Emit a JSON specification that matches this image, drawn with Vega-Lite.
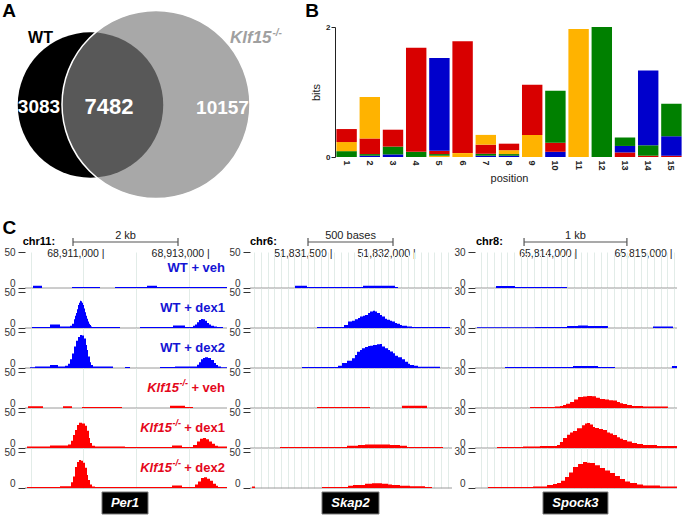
{
"$schema": "https://vega.github.io/schema/vega-lite/v6.json",
"background": "white",
"padding": {"left": 2, "top": 1, "right": 0, "bottom": 0},
"config": {
  "view": {"stroke": null},
  "font": "Liberation Sans",
  "axis": {"labelFont": "Liberation Sans", "titleFont": "Liberation Sans"},
  "axisX": {"grid": true, "labels": false, "ticks": false, "domain": false, "gridColor": "#e2ece8", "gridWidth": 1},
  "axisY": {"grid": false, "domain": false, "tickSize": 7, "tickColor": "#333333", "labelColor": "#333333", "labelFontSize": 10, "labelPadding": 3},
  "text": {"font": "Liberation Sans"}
},
"datasets": {
  "venn": [
    {"region": "WT only", "n": 3083, "wt": true, "klf": false},
    {"region": "both", "n": 7482, "wt": true, "klf": true},
    {"region": "Klf15 only", "n": 10157, "wt": false, "klf": true}
  ],
  "logo": [
    {"pos":1,"nt":"T","bits":0.09},{"pos":1,"nt":"G","bits":0.14},{"pos":1,"nt":"A","bits":0.2},
    {"pos":2,"nt":"C","bits":0.02},{"pos":2,"nt":"T","bits":0.025},{"pos":2,"nt":"A","bits":0.24},{"pos":2,"nt":"G","bits":0.64},
    {"pos":3,"nt":"C","bits":0.04},{"pos":3,"nt":"T","bits":0.12},{"pos":3,"nt":"A","bits":0.26},
    {"pos":4,"nt":"T","bits":0.08},{"pos":4,"nt":"A","bits":1.6},
    {"pos":5,"nt":"G","bits":0.02},{"pos":5,"nt":"T","bits":0.025},{"pos":5,"nt":"A","bits":0.05},{"pos":5,"nt":"C","bits":1.43},
    {"pos":6,"nt":"G","bits":0.06},{"pos":6,"nt":"A","bits":1.72},
    {"pos":7,"nt":"C","bits":0.02},{"pos":7,"nt":"T","bits":0.03},{"pos":7,"nt":"A","bits":0.14},{"pos":7,"nt":"G","bits":0.15},
    {"pos":8,"nt":"C","bits":0.02},{"pos":8,"nt":"T","bits":0.025},{"pos":8,"nt":"G","bits":0.06},{"pos":8,"nt":"A","bits":0.1},
    {"pos":9,"nt":"G","bits":0.34},{"pos":9,"nt":"A","bits":0.77},
    {"pos":10,"nt":"C","bits":0.08},{"pos":10,"nt":"A","bits":0.14},{"pos":10,"nt":"T","bits":0.8},
    {"pos":11,"nt":"G","bits":1.97},
    {"pos":12,"nt":"T","bits":2.0},
    {"pos":13,"nt":"A","bits":0.07},{"pos":13,"nt":"C","bits":0.1},{"pos":13,"nt":"T","bits":0.13},
    {"pos":14,"nt":"A","bits":0.02},{"pos":14,"nt":"T","bits":0.16},{"pos":14,"nt":"C","bits":1.15},
    {"pos":15,"nt":"A","bits":0.02},{"pos":15,"nt":"C","bits":0.3},{"pos":15,"nt":"T","bits":0.5}
  ],
  "per1": [
    {"t":1,"x":68909515,"v":0},{"t":1,"x":68909667,"v":3},{"t":1,"x":68909838,"v":0},{"t":1,"x":68910408,"v":1.5},{"t":1,"x":68910940,"v":0},{"t":1,"x":68911225,"v":1.5},{"t":1,"x":68911833,"v":3},{"t":1,"x":68912023,"v":1.5},{"t":1,"x":68913353,"v":0},
    {"t":2,"x":68909515,"v":0},{"t":2,"x":68909648,"v":1.5},{"t":2,"x":68909990,"v":5},{"t":2,"x":68910180,"v":2},{"t":2,"x":68910370,"v":3},{"t":2,"x":68910408,"v":6},{"t":2,"x":68910446,"v":12},{"t":2,"x":68910465,"v":17},{"t":2,"x":68910484,"v":21},{"t":2,"x":68910503,"v":26},{"t":2,"x":68910522,"v":32},{"t":2,"x":68910541,"v":35},{"t":2,"x":68910560,"v":38},{"t":2,"x":68910579,"v":37},{"t":2,"x":68910598,"v":35},{"t":2,"x":68910617,"v":32},{"t":2,"x":68910636,"v":27},{"t":2,"x":68910655,"v":22},{"t":2,"x":68910674,"v":17},{"t":2,"x":68910693,"v":13},{"t":2,"x":68910712,"v":9},{"t":2,"x":68910731,"v":6},{"t":2,"x":68910750,"v":4},{"t":2,"x":68910769,"v":2},{"t":2,"x":68910788,"v":1.5},{"t":2,"x":68911320,"v":0},{"t":2,"x":68911700,"v":1.5},{"t":2,"x":68912327,"v":3.5},{"t":2,"x":68912555,"v":1.5},{"t":2,"x":68912707,"v":3},{"t":2,"x":68912745,"v":5},{"t":2,"x":68912783,"v":8},{"t":2,"x":68912821,"v":11},{"t":2,"x":68912859,"v":12.5},{"t":2,"x":68912897,"v":12},{"t":2,"x":68912935,"v":10},{"t":2,"x":68912973,"v":7},{"t":2,"x":68913011,"v":5},{"t":2,"x":68913049,"v":3},{"t":2,"x":68913106,"v":2},{"t":2,"x":68913163,"v":1.5},{"t":2,"x":68913277,"v":0},
    {"t":3,"x":68909515,"v":0},{"t":3,"x":68909610,"v":1},{"t":3,"x":68909705,"v":2},{"t":3,"x":68909990,"v":4},{"t":3,"x":68910142,"v":2},{"t":3,"x":68910275,"v":3},{"t":3,"x":68910332,"v":6},{"t":3,"x":68910370,"v":12},{"t":3,"x":68910408,"v":20},{"t":3,"x":68910446,"v":30},{"t":3,"x":68910484,"v":38},{"t":3,"x":68910522,"v":43},{"t":3,"x":68910560,"v":46},{"t":3,"x":68910598,"v":45},{"t":3,"x":68910636,"v":41},{"t":3,"x":68910674,"v":32},{"t":3,"x":68910693,"v":25},{"t":3,"x":68910712,"v":16},{"t":3,"x":68910750,"v":8},{"t":3,"x":68910769,"v":4},{"t":3,"x":68910807,"v":2},{"t":3,"x":68911187,"v":0},{"t":3,"x":68911415,"v":1.5},{"t":3,"x":68911510,"v":0},{"t":3,"x":68912080,"v":1.5},{"t":3,"x":68912365,"v":2},{"t":3,"x":68912783,"v":4.5},{"t":3,"x":68912821,"v":8},{"t":3,"x":68912859,"v":12},{"t":3,"x":68912897,"v":14},{"t":3,"x":68912935,"v":15},{"t":3,"x":68912992,"v":14},{"t":3,"x":68913049,"v":11},{"t":3,"x":68913106,"v":7},{"t":3,"x":68913144,"v":4},{"t":3,"x":68913182,"v":2},{"t":3,"x":68913239,"v":1},{"t":3,"x":68913353,"v":0},
    {"t":4,"x":68909515,"v":0},{"t":4,"x":68909572,"v":2.5},{"t":4,"x":68909857,"v":0},{"t":4,"x":68910237,"v":2.5},{"t":4,"x":68910408,"v":0},{"t":4,"x":68910598,"v":1.5},{"t":4,"x":68911358,"v":0},{"t":4,"x":68912270,"v":3},{"t":4,"x":68912555,"v":1.5},{"t":4,"x":68912707,"v":0},
    {"t":5,"x":68909515,"v":0},{"t":5,"x":68909553,"v":2},{"t":5,"x":68909990,"v":3.5},{"t":5,"x":68910332,"v":5},{"t":5,"x":68910389,"v":10},{"t":5,"x":68910427,"v":18},{"t":5,"x":68910465,"v":25},{"t":5,"x":68910503,"v":32},{"t":5,"x":68910541,"v":35},{"t":5,"x":68910598,"v":34},{"t":5,"x":68910655,"v":31},{"t":5,"x":68910693,"v":24},{"t":5,"x":68910731,"v":14},{"t":5,"x":68910750,"v":7},{"t":5,"x":68910788,"v":3},{"t":5,"x":68910845,"v":2},{"t":5,"x":68911415,"v":1.5},{"t":5,"x":68912308,"v":3.5},{"t":5,"x":68912498,"v":1.5},{"t":5,"x":68912707,"v":4},{"t":5,"x":68912783,"v":9},{"t":5,"x":68912840,"v":13},{"t":5,"x":68912897,"v":14},{"t":5,"x":68912954,"v":12},{"t":5,"x":68913011,"v":9},{"t":5,"x":68913068,"v":6},{"t":5,"x":68913125,"v":3},{"t":5,"x":68913182,"v":2},{"t":5,"x":68913353,"v":0},
    {"t":6,"x":68909515,"v":0},{"t":6,"x":68909553,"v":1.5},{"t":6,"x":68910180,"v":2.5},{"t":6,"x":68910389,"v":8},{"t":6,"x":68910427,"v":16},{"t":6,"x":68910465,"v":29},{"t":6,"x":68910503,"v":36},{"t":6,"x":68910541,"v":39},{"t":6,"x":68910579,"v":38},{"t":6,"x":68910617,"v":35},{"t":6,"x":68910655,"v":28},{"t":6,"x":68910693,"v":18},{"t":6,"x":68910712,"v":11},{"t":6,"x":68910750,"v":5},{"t":6,"x":68910788,"v":2},{"t":6,"x":68910845,"v":1.5},{"t":6,"x":68912308,"v":3.5},{"t":6,"x":68912498,"v":1.5},{"t":6,"x":68912745,"v":5},{"t":6,"x":68912802,"v":9},{"t":6,"x":68912859,"v":14},{"t":6,"x":68912916,"v":15},{"t":6,"x":68912973,"v":13},{"t":6,"x":68913030,"v":10},{"t":6,"x":68913087,"v":6},{"t":6,"x":68913144,"v":3},{"t":6,"x":68913182,"v":1.5},{"t":6,"x":68913353,"v":0}
  ],
  "skap2": [
    {"t":1,"x":51831014,"v":0},{"t":1,"x":51831284,"v":3},{"t":1,"x":51831356,"v":1.5},{"t":1,"x":51831692,"v":3},{"t":1,"x":51831884,"v":1.5},{"t":1,"x":51831902,"v":0},
    {"t":2,"x":51831014,"v":0},{"t":2,"x":51831416,"v":1.5},{"t":2,"x":51831578,"v":4},{"t":2,"x":51831602,"v":9},{"t":2,"x":51831626,"v":10},{"t":2,"x":51831644,"v":12},{"t":2,"x":51831662,"v":14},{"t":2,"x":51831674,"v":16},{"t":2,"x":51831692,"v":17},{"t":2,"x":51831704,"v":18},{"t":2,"x":51831722,"v":21},{"t":2,"x":51831734,"v":23},{"t":2,"x":51831752,"v":24},{"t":2,"x":51831764,"v":23},{"t":2,"x":51831776,"v":21},{"t":2,"x":51831794,"v":18},{"t":2,"x":51831806,"v":16},{"t":2,"x":51831824,"v":13},{"t":2,"x":51831836,"v":11.5},{"t":2,"x":51831854,"v":10},{"t":2,"x":51831866,"v":9},{"t":2,"x":51831884,"v":7},{"t":2,"x":51831896,"v":6},{"t":2,"x":51831914,"v":4},{"t":2,"x":51831926,"v":3},{"t":2,"x":51831956,"v":2},{"t":2,"x":51831986,"v":1.5},{"t":2,"x":51832214,"v":0},
    {"t":3,"x":51831014,"v":0},{"t":3,"x":51831326,"v":1.5},{"t":3,"x":51831542,"v":3},{"t":3,"x":51831566,"v":7},{"t":3,"x":51831596,"v":10},{"t":3,"x":51831626,"v":13.5},{"t":3,"x":51831644,"v":18},{"t":3,"x":51831656,"v":22.6},{"t":3,"x":51831674,"v":25},{"t":3,"x":51831686,"v":27.4},{"t":3,"x":51831704,"v":29},{"t":3,"x":51831722,"v":30.6},{"t":3,"x":51831734,"v":31},{"t":3,"x":51831752,"v":32},{"t":3,"x":51831776,"v":33},{"t":3,"x":51831794,"v":33.4},{"t":3,"x":51831806,"v":30},{"t":3,"x":51831824,"v":27.4},{"t":3,"x":51831842,"v":25},{"t":3,"x":51831854,"v":23},{"t":3,"x":51831872,"v":20.4},{"t":3,"x":51831884,"v":17},{"t":3,"x":51831902,"v":14.9},{"t":3,"x":51831926,"v":12},{"t":3,"x":51831944,"v":8.8},{"t":3,"x":51831962,"v":6},{"t":3,"x":51831974,"v":4.2},{"t":3,"x":51831998,"v":3},{"t":3,"x":51832022,"v":1.8},{"t":3,"x":51832154,"v":0},
    {"t":4,"x":51831014,"v":0},{"t":4,"x":51831416,"v":1.5},{"t":4,"x":51831734,"v":0},{"t":4,"x":51831926,"v":3},{"t":4,"x":51832076,"v":0},
    {"t":5,"x":51831014,"v":0},{"t":5,"x":51831194,"v":1.5},{"t":5,"x":51831596,"v":3},{"t":5,"x":51831662,"v":4},{"t":5,"x":51831704,"v":5},{"t":5,"x":51831854,"v":4},{"t":5,"x":51831914,"v":3},{"t":5,"x":51831956,"v":1.5},{"t":5,"x":51832172,"v":0},
    {"t":6,"x":51831014,"v":0},{"t":6,"x":51831026,"v":2},{"t":6,"x":51831044,"v":0},{"t":6,"x":51831446,"v":1.5},{"t":6,"x":51831602,"v":3},{"t":6,"x":51831632,"v":4},{"t":6,"x":51831704,"v":6},{"t":6,"x":51831746,"v":6.5},{"t":6,"x":51831806,"v":6},{"t":6,"x":51831842,"v":5},{"t":6,"x":51831866,"v":4},{"t":6,"x":51831914,"v":3},{"t":6,"x":51831974,"v":2.5},{"t":6,"x":51832064,"v":1.5},{"t":6,"x":51832106,"v":0}
  ],
  "spock3": [
    {"t":1,"x":65812940,"v":0},{"t":1,"x":65813160,"v":1.7},{"t":1,"x":65813360,"v":0.9},{"t":1,"x":65813906,"v":0},
    {"t":2,"x":65812940,"v":0},{"t":2,"x":65812961,"v":0.6},{"t":2,"x":65813570,"v":0.9},{"t":2,"x":65813906,"v":1.7},{"t":2,"x":65814022,"v":2.1},{"t":2,"x":65814126,"v":1.7},{"t":2,"x":65814336,"v":0},{"t":2,"x":65814809,"v":1.3},{"t":2,"x":65815019,"v":0},
    {"t":3,"x":65812940,"v":0},{"t":3,"x":65813255,"v":0.8},{"t":3,"x":65813969,"v":1.7},{"t":3,"x":65814232,"v":0.9},{"t":3,"x":65814410,"v":0},{"t":3,"x":65815008,"v":1.7},{"t":3,"x":65815061,"v":0},
    {"t":4,"x":65812940,"v":0},{"t":4,"x":65813518,"v":0.9},{"t":4,"x":65813780,"v":1.3},{"t":4,"x":65813832,"v":1.7},{"t":4,"x":65813864,"v":2.5},{"t":4,"x":65813896,"v":3.5},{"t":4,"x":65813938,"v":5},{"t":4,"x":65813980,"v":7},{"t":4,"x":65814022,"v":9.2},{"t":4,"x":65814074,"v":9.6},{"t":4,"x":65814116,"v":10},{"t":4,"x":65814168,"v":9.8},{"t":4,"x":65814210,"v":8.5},{"t":4,"x":65814252,"v":7.5},{"t":4,"x":65814305,"v":7},{"t":4,"x":65814347,"v":6.5},{"t":4,"x":65814389,"v":6.2},{"t":4,"x":65814431,"v":5},{"t":4,"x":65814462,"v":4},{"t":4,"x":65814494,"v":3.3},{"t":4,"x":65814536,"v":2.5},{"t":4,"x":65814588,"v":1.7},{"t":4,"x":65814704,"v":1.2},{"t":4,"x":65814966,"v":0},
    {"t":5,"x":65812940,"v":0},{"t":5,"x":65813171,"v":0.9},{"t":5,"x":65813444,"v":1.2},{"t":5,"x":65813622,"v":1.7},{"t":5,"x":65813801,"v":2.5},{"t":5,"x":65813832,"v":5},{"t":5,"x":65813864,"v":8.3},{"t":5,"x":65813906,"v":11},{"t":5,"x":65813938,"v":13},{"t":5,"x":65813969,"v":14.2},{"t":5,"x":65814011,"v":16.5},{"t":5,"x":65814064,"v":19},{"t":5,"x":65814095,"v":20.5},{"t":5,"x":65814116,"v":20.8},{"t":5,"x":65814148,"v":19.5},{"t":5,"x":65814179,"v":17.5},{"t":5,"x":65814200,"v":16.7},{"t":5,"x":65814242,"v":15.8},{"t":5,"x":65814284,"v":15},{"t":5,"x":65814326,"v":13},{"t":5,"x":65814358,"v":12},{"t":5,"x":65814389,"v":10.8},{"t":5,"x":65814431,"v":9},{"t":5,"x":65814462,"v":7.8},{"t":5,"x":65814494,"v":6.7},{"t":5,"x":65814536,"v":5.5},{"t":5,"x":65814588,"v":4.2},{"t":5,"x":65814641,"v":3.3},{"t":5,"x":65814704,"v":2.5},{"t":5,"x":65814851,"v":1.7},{"t":5,"x":65815061,"v":0},
    {"t":6,"x":65812940,"v":0},{"t":6,"x":65813076,"v":0.8},{"t":6,"x":65813549,"v":1.2},{"t":6,"x":65813696,"v":2.5},{"t":6,"x":65813759,"v":3.3},{"t":6,"x":65813801,"v":4.2},{"t":6,"x":65813843,"v":6},{"t":6,"x":65813885,"v":9.2},{"t":6,"x":65813927,"v":13},{"t":6,"x":65813969,"v":17.5},{"t":6,"x":65814022,"v":20},{"t":6,"x":65814074,"v":21.7},{"t":6,"x":65814116,"v":21},{"t":6,"x":65814148,"v":20.8},{"t":6,"x":65814200,"v":19},{"t":6,"x":65814252,"v":16.7},{"t":6,"x":65814305,"v":14.5},{"t":6,"x":65814358,"v":12.5},{"t":6,"x":65814410,"v":10},{"t":6,"x":65814462,"v":7.5},{"t":6,"x":65814515,"v":5.5},{"t":6,"x":65814568,"v":4.2},{"t":6,"x":65814641,"v":3},{"t":6,"x":65814704,"v":2.1},{"t":6,"x":65814882,"v":1.2},{"t":6,"x":65815061,"v":0}
  ]
},
"spacing": 16,
"resolve": {"scale": {"x": "independent", "y": "independent", "color": "independent", "size": "independent"}},
"vconcat": [
{
"hconcat": [
  {
    "width": 287, "height": 130,
    "layer": [
      {"data": {"name": "venn"},
       "transform": [{"filter": "datum.wt"}, {"aggregate": [{"op": "sum", "field": "n", "as": "total"}]}],
       "mark": {"type": "point", "shape": "circle", "filled": true, "color": "#000000", "opacity": 1, "strokeWidth": 0},
       "encoding": {
         "x": {"datum": 65.5, "type": "quantitative", "scale": {"domain": [0, 287], "nice": false, "zero": false}, "axis": null},
         "y": {"datum": 78, "type": "quantitative", "scale": {"domain": [0, 130], "nice": false, "zero": false, "reverse": true}, "axis": null},
         "size": {"field": "total", "type": "quantitative", "scale": {"domain": [0, 17639], "range": [0, 35344]}, "legend": null}
       }},
      {"data": {"name": "venn"},
       "transform": [{"filter": "datum.klf"}, {"aggregate": [{"op": "sum", "field": "n", "as": "total"}]}],
       "mark": {"type": "point", "shape": "circle", "filled": true, "color": "#808080", "opacity": 1, "fillOpacity": 0.686, "stroke": "#ffffff", "strokeWidth": 1.5, "strokeOpacity": 1},
       "encoding": {
         "x": {"datum": 131, "type": "quantitative"},
         "y": {"datum": 77.5, "type": "quantitative"},
         "size": {"field": "total", "type": "quantitative", "legend": null}
       }},
      {"data": {"values": [{}]},
       "mark": {"type": "text", "text": "A", "fontSize": 19, "fontWeight": "bold", "align": "center", "baseline": "middle", "color": "#000000"},
       "encoding": {"x": {"datum": -16, "type": "quantitative"}, "y": {"datum": -16, "type": "quantitative"}}},
      {"data": {"values": [{}]},
       "mark": {"type": "text", "text": "B", "fontSize": 19, "fontWeight": "bold", "align": "center", "baseline": "middle", "color": "#000000"},
       "encoding": {"x": {"datum": 287, "type": "quantitative"}, "y": {"datum": -16.5, "type": "quantitative"}}},
      {"data": {"values": [{}]},
       "mark": {"type": "text", "text": "WT", "fontSize": 16, "fontWeight": "bold", "align": "center", "baseline": "middle", "color": "#000000"},
       "encoding": {"x": {"datum": 15.5, "type": "quantitative"}, "y": {"datum": 11, "type": "quantitative"}}},
      {"data": {"values": [{}]},
       "mark": {"type": "text", "text": "Klf15", "fontSize": 17, "fontWeight": "bold", "fontStyle": "italic", "align": "left", "baseline": "middle", "color": "#a0a0a0"},
       "encoding": {"x": {"datum": 205, "type": "quantitative"}, "y": {"datum": 11, "type": "quantitative"}}},
      {"data": {"values": [{}]},
       "mark": {"type": "text", "text": "-/-", "fontSize": 10, "fontWeight": "bold", "fontStyle": "italic", "align": "left", "baseline": "middle", "color": "#a0a0a0", "dy": -5},
       "encoding": {"x": {"datum": 247.5, "type": "quantitative"}, "y": {"datum": 11, "type": "quantitative"}}},
      {"data": {"name": "venn"}, "transform": [{"filter": "datum.region == 'WT only'"}],
       "mark": {"type": "text", "fontSize": 19, "fontWeight": "bold", "align": "center", "baseline": "middle", "color": "#ffffff"},
       "encoding": {"text": {"field": "n", "type": "quantitative", "format": "d"}, "x": {"datum": 14, "type": "quantitative"}, "y": {"datum": 80, "type": "quantitative"}}},
      {"data": {"name": "venn"}, "transform": [{"filter": "datum.region == 'both'"}],
       "mark": {"type": "text", "fontSize": 22, "fontWeight": "bold", "align": "center", "baseline": "middle", "color": "#ffffff"},
       "encoding": {"text": {"field": "n", "type": "quantitative", "format": "d"}, "x": {"datum": 84, "type": "quantitative"}, "y": {"datum": 80, "type": "quantitative"}}},
      {"data": {"name": "venn"}, "transform": [{"filter": "datum.region == 'Klf15 only'"}],
       "mark": {"type": "text", "fontSize": 19, "fontWeight": "bold", "align": "center", "baseline": "middle", "color": "#ffffff"},
       "encoding": {"text": {"field": "n", "type": "quantitative", "format": "d"}, "x": {"datum": 197.5, "type": "quantitative"}, "y": {"datum": 81, "type": "quantitative"}}}
    ]
  },
  {
    "width": 348, "height": 130,
    "data": {"name": "logo"},
    "mark": {"type": "bar"},
    "encoding": {
      "x": {"field": "pos", "type": "ordinal", "scale": {"paddingInner": 0.12, "paddingOuter": 0.06},
            "axis": {"labels": true, "grid": false, "labelAngle": 90, "labelFontSize": 9, "labelFontWeight": "bold", "labelColor": "#222222", "labelPadding": 3, "ticks": false, "domain": false, "title": "position", "titleFontSize": 11, "titleFontWeight": "normal", "titleColor": "#222222", "titlePadding": 2}},
      "y": {"field": "bits", "type": "quantitative", "stack": "zero", "scale": {"domain": [0, 2], "nice": false},
            "axis": {"values": [0, 1, 2], "format": "d", "title": "bits", "titleFontSize": 11, "titleFontWeight": "normal", "titleColor": "#222222", "titlePadding": 4, "labelFontSize": 8, "labelFontWeight": "bold", "labelColor": "#222222", "tickSize": 4, "labelPadding": 1, "domain": true, "domainColor": "#222222", "tickColor": "#222222", "grid": false}},
      "color": {"field": "nt", "type": "nominal", "scale": {"domain": ["A", "C", "G", "T"], "range": ["#d80000", "#0000cc", "#ffb300", "#008000"]}, "legend": null},
      "order": {"field": "bits", "sort": "ascending"}
    }
  }
],
"spacing": 23,
"bounds": "flush",
"resolve": {"scale": {"x": "independent", "y": "independent", "color": "independent", "size": "independent"}}
},
{
"columns": 3,
"bounds": "flush",
"spacing": {"row": 0, "column": 23},
"resolve": {"scale": {"x": "independent", "y": "independent", "color": "independent"}},
"concat": [
  {
    "width": 202, "height": 34,
    "data": {"values": [{}]},
    "layer": [
      {"mark": {"type": "text", "text": "C", "fontSize": 19, "fontWeight": "bold", "align": "center", "baseline": "middle", "color": "#000000"},
       "encoding": {"x": {"datum": 68909220, "type": "quantitative", "scale": {"domain": [68909515, 68913353], "nice": false, "zero": false}, "axis": null},
                    "y": {"datum": 10, "type": "quantitative", "scale": {"domain": [0, 34], "nice": false, "zero": false, "reverse": true}, "axis": null}}},
      {"mark": {"type": "text", "text": "chr11:", "fontSize": 11, "fontWeight": "bold", "align": "left", "baseline": "middle", "color": "#000000"},
       "encoding": {"x": {"datum": 68909471, "type": "quantitative"}, "y": {"datum": 24, "type": "quantitative"}}},
      {"mark": {"type": "rule", "color": "#555555", "strokeWidth": 1.2},
       "encoding": {"x": {"datum": 68910427, "type": "quantitative"}, "x2": {"datum": 68912422}, "y": {"datum": 24, "type": "quantitative"}}},
      {"mark": {"type": "rule", "color": "#555555", "strokeWidth": 1.2},
       "encoding": {"x": {"datum": 68910427, "type": "quantitative"}, "y": {"datum": 20, "type": "quantitative"}, "y2": {"datum": 28}}},
      {"mark": {"type": "rule", "color": "#555555", "strokeWidth": 1.2},
       "encoding": {"x": {"datum": 68912422, "type": "quantitative"}, "y": {"datum": 20, "type": "quantitative"}, "y2": {"datum": 28}}},
      {"mark": {"type": "text", "text": "2 kb", "fontSize": 11, "align": "center", "baseline": "middle", "color": "#222222"},
       "encoding": {"x": {"datum": 68911425, "type": "quantitative"}, "y": {"datum": 18, "type": "quantitative"}}},
      {"mark": {"type": "text", "text": "68,911,000 |", "fontSize": 10.5, "align": "right", "baseline": "middle", "dx": 1.4, "color": "#222222"},
       "encoding": {"x": {"datum": 68911000, "type": "quantitative"}, "y": {"datum": 36, "type": "quantitative"}}},
      {"mark": {"type": "text", "text": "68,913,000 |", "fontSize": 10.5, "align": "right", "baseline": "middle", "dx": 1.4, "color": "#222222"},
       "encoding": {"x": {"datum": 68913000, "type": "quantitative"}, "y": {"datum": 36, "type": "quantitative"}}}
    ]
  },
  {
    "width": 202, "height": 34,
    "data": {"values": [{}]},
    "layer": [
      {"mark": {"type": "text", "text": "chr6:", "fontSize": 11, "fontWeight": "bold", "align": "left", "baseline": "middle", "color": "#000000"},
       "encoding": {"x": {"datum": 51831014, "type": "quantitative", "scale": {"domain": [51831014, 51832226], "nice": false, "zero": false}, "axis": null},
                    "y": {"datum": 24, "type": "quantitative", "scale": {"domain": [0, 34], "nice": false, "zero": false, "reverse": true}, "axis": null}}},
      {"mark": {"type": "rule", "color": "#555555", "strokeWidth": 1.2},
       "encoding": {"x": {"datum": 51831362, "type": "quantitative"}, "x2": {"datum": 51831872}, "y": {"datum": 24, "type": "quantitative"}}},
      {"mark": {"type": "rule", "color": "#555555", "strokeWidth": 1.2},
       "encoding": {"x": {"datum": 51831362, "type": "quantitative"}, "y": {"datum": 20, "type": "quantitative"}, "y2": {"datum": 28}}},
      {"mark": {"type": "rule", "color": "#555555", "strokeWidth": 1.2},
       "encoding": {"x": {"datum": 51831872, "type": "quantitative"}, "y": {"datum": 20, "type": "quantitative"}, "y2": {"datum": 28}}},
      {"mark": {"type": "text", "text": "500 bases", "fontSize": 11, "align": "center", "baseline": "middle", "color": "#222222"},
       "encoding": {"x": {"datum": 51831617, "type": "quantitative"}, "y": {"datum": 18, "type": "quantitative"}}},
      {"mark": {"type": "text", "text": "51,831,500 |", "fontSize": 10.5, "align": "right", "baseline": "middle", "dx": 1.4, "color": "#222222"},
       "encoding": {"x": {"datum": 51831500, "type": "quantitative"}, "y": {"datum": 36, "type": "quantitative"}}},
      {"mark": {"type": "text", "text": "51,832,000 |", "fontSize": 10.5, "align": "right", "baseline": "middle", "dx": 1.4, "color": "#222222"},
       "encoding": {"x": {"datum": 51832000, "type": "quantitative"}, "y": {"datum": 36, "type": "quantitative"}}}
    ]
  },
  {
    "width": 202, "height": 34,
    "data": {"values": [{}]},
    "layer": [
      {"mark": {"type": "text", "text": "chr8:", "fontSize": 11, "fontWeight": "bold", "align": "left", "baseline": "middle", "color": "#000000"},
       "encoding": {"x": {"datum": 65812950, "type": "quantitative", "scale": {"domain": [65812940, 65815061], "nice": false, "zero": false}, "axis": null},
                    "y": {"datum": 24, "type": "quantitative", "scale": {"domain": [0, 34], "nice": false, "zero": false, "reverse": true}, "axis": null}}},
      {"mark": {"type": "rule", "color": "#555555", "strokeWidth": 1.2},
       "encoding": {"x": {"datum": 65813455, "type": "quantitative"}, "x2": {"datum": 65814535}, "y": {"datum": 24, "type": "quantitative"}}},
      {"mark": {"type": "rule", "color": "#555555", "strokeWidth": 1.2},
       "encoding": {"x": {"datum": 65813455, "type": "quantitative"}, "y": {"datum": 20, "type": "quantitative"}, "y2": {"datum": 28}}},
      {"mark": {"type": "rule", "color": "#555555", "strokeWidth": 1.2},
       "encoding": {"x": {"datum": 65814535, "type": "quantitative"}, "y": {"datum": 20, "type": "quantitative"}, "y2": {"datum": 28}}},
      {"mark": {"type": "text", "text": "1 kb", "fontSize": 11, "align": "center", "baseline": "middle", "color": "#222222"},
       "encoding": {"x": {"datum": 65813995, "type": "quantitative"}, "y": {"datum": 18, "type": "quantitative"}}},
      {"mark": {"type": "text", "text": "65,814,000 |", "fontSize": 10.5, "align": "right", "baseline": "middle", "dx": 1.4, "color": "#222222"},
       "encoding": {"x": {"datum": 65814000, "type": "quantitative"}, "y": {"datum": 36, "type": "quantitative"}}},
      {"mark": {"type": "text", "text": "65,815,000 |", "fontSize": 10.5, "align": "right", "baseline": "middle", "dx": 1.4, "color": "#222222"},
       "encoding": {"x": {"datum": 65815000, "type": "quantitative"}, "y": {"datum": 36, "type": "quantitative"}}}
    ]
  },

  {"width": 202, "height": 36, "data": {"name": "per1"}, "transform": [{"filter": "datum.t == 1"}],
   "layer": [
     {"transform": [{"aggregate": [{"op": "count", "as": "n"}]}], "mark": {"type": "rule", "color": "#9a9a9a", "strokeWidth": 1}, "encoding": {"y": {"datum": 0, "type": "quantitative"}}},
     {"mark": {"type": "area", "interpolate": "step-after", "color": "#0000ff"},
      "encoding": {"x": {"field": "x", "type": "quantitative", "scale": {"domain": [68909515, 68913353], "nice": false, "zero": false}, "axis": {"title": null, "values": [68909625,68909750,68909875,68910000,68910125,68910250,68910375,68910500,68910625,68910750,68910875,68911000,68911125,68911250,68911375,68911500,68911625,68911750,68911875,68912000,68912125,68912250,68912375,68912500,68912625,68912750,68912875,68913000,68913125,68913250]}},
                   "y": {"field": "v", "type": "quantitative", "scale": {"domain": [0, 50], "nice": false, "zero": false}, "axis": {"title": null, "values": [0, 50], "labelBaseline": {"condition": {"test": "datum.value == 0", "value": "bottom"}, "value": "middle"}}}}},
     {"transform": [{"aggregate": [{"op": "count", "as": "n"}]}], "mark": {"type": "text", "text": "WT + veh", "align": "right", "baseline": "middle", "fontSize": 13, "fontWeight": "bold", "color": "#1414d4", "dx": -2}, "encoding": {"x": {"datum": 68913353, "type": "quantitative"}, "y": {"datum": 27.8, "type": "quantitative"}}}
   ]},
  {"width": 202, "height": 36, "data": {"name": "skap2"}, "transform": [{"filter": "datum.t == 1"}],
   "layer": [
     {"transform": [{"aggregate": [{"op": "count", "as": "n"}]}], "mark": {"type": "rule", "color": "#9a9a9a", "strokeWidth": 1}, "encoding": {"y": {"datum": 0, "type": "quantitative"}}},
     {"mark": {"type": "area", "interpolate": "step-after", "color": "#0000ff"},
      "encoding": {"x": {"field": "x", "type": "quantitative", "scale": {"domain": [51831014, 51832226], "nice": false, "zero": false}, "axis": {"title": null, "values": [51831040,51831080,51831120,51831160,51831200,51831240,51831280,51831320,51831360,51831400,51831440,51831480,51831520,51831560,51831600,51831640,51831680,51831720,51831760,51831800,51831840,51831880,51831920,51831960,51832000,51832040,51832080,51832120,51832160,51832200]}},
                   "y": {"field": "v", "type": "quantitative", "scale": {"domain": [0, 50], "nice": false, "zero": false}, "axis": {"title": null, "values": [0, 50], "labelBaseline": {"condition": {"test": "datum.value == 0", "value": "bottom"}, "value": "middle"}}}}}
   ]},
  {"width": 202, "height": 36, "data": {"name": "spock3"}, "transform": [{"filter": "datum.t == 1"}],
   "layer": [
     {"transform": [{"aggregate": [{"op": "count", "as": "n"}]}], "mark": {"type": "rule", "color": "#9a9a9a", "strokeWidth": 1}, "encoding": {"y": {"datum": 0, "type": "quantitative"}}},
     {"mark": {"type": "area", "interpolate": "step-after", "color": "#0000ff"},
      "encoding": {"x": {"field": "x", "type": "quantitative", "scale": {"domain": [65812940, 65815061], "nice": false, "zero": false}, "axis": {"title": null, "values": [65813000,65813070,65813140,65813210,65813280,65813350,65813420,65813490,65813560,65813630,65813700,65813770,65813840,65813910,65813980,65814050,65814120,65814190,65814260,65814330,65814400,65814470,65814540,65814610,65814680,65814750,65814820,65814890,65814960,65815030]}},
                   "y": {"field": "v", "type": "quantitative", "scale": {"domain": [0, 30], "nice": false, "zero": false}, "axis": {"title": null, "values": [0, 30], "labelBaseline": {"condition": {"test": "datum.value == 0", "value": "bottom"}, "value": "middle"}}}}}
   ]},

  {"width": 202, "height": 40, "data": {"name": "per1"}, "transform": [{"filter": "datum.t == 2"}],
   "layer": [
     {"transform": [{"aggregate": [{"op": "count", "as": "n"}]}], "mark": {"type": "rule", "color": "#9a9a9a", "strokeWidth": 1}, "encoding": {"y": {"datum": 0, "type": "quantitative"}}},
     {"mark": {"type": "area", "interpolate": "step-after", "color": "#0000ff"},
      "encoding": {"x": {"field": "x", "type": "quantitative", "scale": {"domain": [68909515, 68913353], "nice": false, "zero": false}, "axis": {"title": null, "values": [68909625,68909750,68909875,68910000,68910125,68910250,68910375,68910500,68910625,68910750,68910875,68911000,68911125,68911250,68911375,68911500,68911625,68911750,68911875,68912000,68912125,68912250,68912375,68912500,68912625,68912750,68912875,68913000,68913125,68913250]}},
                   "y": {"field": "v", "type": "quantitative", "scale": {"domain": [0, 55.556], "nice": false, "zero": false}, "axis": {"title": null, "values": [0, 50], "labelBaseline": {"condition": {"test": "datum.value == 0", "value": "bottom"}, "value": "middle"}}}}},
     {"transform": [{"aggregate": [{"op": "count", "as": "n"}]}], "mark": {"type": "text", "text": "WT + dex1", "align": "right", "baseline": "middle", "fontSize": 13, "fontWeight": "bold", "color": "#1414d4", "dx": -2}, "encoding": {"x": {"datum": 68913353, "type": "quantitative"}, "y": {"datum": 27.8, "type": "quantitative"}}}
   ]},
  {"width": 202, "height": 40, "data": {"name": "skap2"}, "transform": [{"filter": "datum.t == 2"}],
   "layer": [
     {"transform": [{"aggregate": [{"op": "count", "as": "n"}]}], "mark": {"type": "rule", "color": "#9a9a9a", "strokeWidth": 1}, "encoding": {"y": {"datum": 0, "type": "quantitative"}}},
     {"mark": {"type": "area", "interpolate": "step-after", "color": "#0000ff"},
      "encoding": {"x": {"field": "x", "type": "quantitative", "scale": {"domain": [51831014, 51832226], "nice": false, "zero": false}, "axis": {"title": null, "values": [51831040,51831080,51831120,51831160,51831200,51831240,51831280,51831320,51831360,51831400,51831440,51831480,51831520,51831560,51831600,51831640,51831680,51831720,51831760,51831800,51831840,51831880,51831920,51831960,51832000,51832040,51832080,51832120,51832160,51832200]}},
                   "y": {"field": "v", "type": "quantitative", "scale": {"domain": [0, 55.556], "nice": false, "zero": false}, "axis": {"title": null, "values": [0, 50], "labelBaseline": {"condition": {"test": "datum.value == 0", "value": "bottom"}, "value": "middle"}}}}}
   ]},
  {"width": 202, "height": 40, "data": {"name": "spock3"}, "transform": [{"filter": "datum.t == 2"}],
   "layer": [
     {"transform": [{"aggregate": [{"op": "count", "as": "n"}]}], "mark": {"type": "rule", "color": "#9a9a9a", "strokeWidth": 1}, "encoding": {"y": {"datum": 0, "type": "quantitative"}}},
     {"mark": {"type": "area", "interpolate": "step-after", "color": "#0000ff"},
      "encoding": {"x": {"field": "x", "type": "quantitative", "scale": {"domain": [65812940, 65815061], "nice": false, "zero": false}, "axis": {"title": null, "values": [65813000,65813070,65813140,65813210,65813280,65813350,65813420,65813490,65813560,65813630,65813700,65813770,65813840,65813910,65813980,65814050,65814120,65814190,65814260,65814330,65814400,65814470,65814540,65814610,65814680,65814750,65814820,65814890,65814960,65815030]}},
                   "y": {"field": "v", "type": "quantitative", "scale": {"domain": [0, 33.333], "nice": false, "zero": false}, "axis": {"title": null, "values": [0, 30], "labelBaseline": {"condition": {"test": "datum.value == 0", "value": "bottom"}, "value": "middle"}}}}}
   ]},

  {"width": 202, "height": 40, "data": {"name": "per1"}, "transform": [{"filter": "datum.t == 3"}],
   "layer": [
     {"transform": [{"aggregate": [{"op": "count", "as": "n"}]}], "mark": {"type": "rule", "color": "#9a9a9a", "strokeWidth": 1}, "encoding": {"y": {"datum": 0, "type": "quantitative"}}},
     {"mark": {"type": "area", "interpolate": "step-after", "color": "#0000ff"},
      "encoding": {"x": {"field": "x", "type": "quantitative", "scale": {"domain": [68909515, 68913353], "nice": false, "zero": false}, "axis": {"title": null, "values": [68909625,68909750,68909875,68910000,68910125,68910250,68910375,68910500,68910625,68910750,68910875,68911000,68911125,68911250,68911375,68911500,68911625,68911750,68911875,68912000,68912125,68912250,68912375,68912500,68912625,68912750,68912875,68913000,68913125,68913250]}},
                   "y": {"field": "v", "type": "quantitative", "scale": {"domain": [0, 55.556], "nice": false, "zero": false}, "axis": {"title": null, "values": [0, 50], "labelBaseline": {"condition": {"test": "datum.value == 0", "value": "bottom"}, "value": "middle"}}}}},
     {"transform": [{"aggregate": [{"op": "count", "as": "n"}]}], "mark": {"type": "text", "text": "WT + dex2", "align": "right", "baseline": "middle", "fontSize": 13, "fontWeight": "bold", "color": "#1414d4", "dx": -2}, "encoding": {"x": {"datum": 68913353, "type": "quantitative"}, "y": {"datum": 27.8, "type": "quantitative"}}}
   ]},
  {"width": 202, "height": 40, "data": {"name": "skap2"}, "transform": [{"filter": "datum.t == 3"}],
   "layer": [
     {"transform": [{"aggregate": [{"op": "count", "as": "n"}]}], "mark": {"type": "rule", "color": "#9a9a9a", "strokeWidth": 1}, "encoding": {"y": {"datum": 0, "type": "quantitative"}}},
     {"mark": {"type": "area", "interpolate": "step-after", "color": "#0000ff"},
      "encoding": {"x": {"field": "x", "type": "quantitative", "scale": {"domain": [51831014, 51832226], "nice": false, "zero": false}, "axis": {"title": null, "values": [51831040,51831080,51831120,51831160,51831200,51831240,51831280,51831320,51831360,51831400,51831440,51831480,51831520,51831560,51831600,51831640,51831680,51831720,51831760,51831800,51831840,51831880,51831920,51831960,51832000,51832040,51832080,51832120,51832160,51832200]}},
                   "y": {"field": "v", "type": "quantitative", "scale": {"domain": [0, 55.556], "nice": false, "zero": false}, "axis": {"title": null, "values": [0, 50], "labelBaseline": {"condition": {"test": "datum.value == 0", "value": "bottom"}, "value": "middle"}}}}}
   ]},
  {"width": 202, "height": 40, "data": {"name": "spock3"}, "transform": [{"filter": "datum.t == 3"}],
   "layer": [
     {"transform": [{"aggregate": [{"op": "count", "as": "n"}]}], "mark": {"type": "rule", "color": "#9a9a9a", "strokeWidth": 1}, "encoding": {"y": {"datum": 0, "type": "quantitative"}}},
     {"mark": {"type": "area", "interpolate": "step-after", "color": "#0000ff"},
      "encoding": {"x": {"field": "x", "type": "quantitative", "scale": {"domain": [65812940, 65815061], "nice": false, "zero": false}, "axis": {"title": null, "values": [65813000,65813070,65813140,65813210,65813280,65813350,65813420,65813490,65813560,65813630,65813700,65813770,65813840,65813910,65813980,65814050,65814120,65814190,65814260,65814330,65814400,65814470,65814540,65814610,65814680,65814750,65814820,65814890,65814960,65815030]}},
                   "y": {"field": "v", "type": "quantitative", "scale": {"domain": [0, 33.333], "nice": false, "zero": false}, "axis": {"title": null, "values": [0, 30], "labelBaseline": {"condition": {"test": "datum.value == 0", "value": "bottom"}, "value": "middle"}}}}}
   ]},

  {"width": 202, "height": 40, "data": {"name": "per1"}, "transform": [{"filter": "datum.t == 4"}],
   "layer": [
     {"transform": [{"aggregate": [{"op": "count", "as": "n"}]}], "mark": {"type": "rule", "color": "#9a9a9a", "strokeWidth": 1}, "encoding": {"y": {"datum": 0, "type": "quantitative"}}},
     {"mark": {"type": "area", "interpolate": "step-after", "color": "#ff0000"},
      "encoding": {"x": {"field": "x", "type": "quantitative", "scale": {"domain": [68909515, 68913353], "nice": false, "zero": false}, "axis": {"title": null, "values": [68909625,68909750,68909875,68910000,68910125,68910250,68910375,68910500,68910625,68910750,68910875,68911000,68911125,68911250,68911375,68911500,68911625,68911750,68911875,68912000,68912125,68912250,68912375,68912500,68912625,68912750,68912875,68913000,68913125,68913250]}},
                   "y": {"field": "v", "type": "quantitative", "scale": {"domain": [0, 55.556], "nice": false, "zero": false}, "axis": {"title": null, "values": [0, 50], "labelBaseline": {"condition": {"test": "datum.value == 0", "value": "bottom"}, "value": "middle"}}}}},
     {"transform": [{"aggregate": [{"op": "count", "as": "n"}]}], "mark": {"type": "text", "text": "+ veh", "align": "right", "baseline": "middle", "fontSize": 13, "fontWeight": "bold", "color": "#e4081c", "dx": -2}, "encoding": {"x": {"datum": 68913353, "type": "quantitative"}, "y": {"datum": 27.8, "type": "quantitative"}}},
     {"transform": [{"aggregate": [{"op": "count", "as": "n"}]}], "mark": {"type": "text", "text": "-/-", "align": "right", "baseline": "middle", "fontSize": 9, "fontWeight": "bold", "fontStyle": "italic", "color": "#e4081c", "dx": -39, "dy": -5}, "encoding": {"x": {"datum": 68913353, "type": "quantitative"}, "y": {"datum": 27.8, "type": "quantitative"}}},
     {"transform": [{"aggregate": [{"op": "count", "as": "n"}]}], "mark": {"type": "text", "text": "Klf15", "align": "right", "baseline": "middle", "fontSize": 13, "fontWeight": "bold", "fontStyle": "italic", "color": "#e4081c", "dx": -48}, "encoding": {"x": {"datum": 68913353, "type": "quantitative"}, "y": {"datum": 27.8, "type": "quantitative"}}}
   ]},
  {"width": 202, "height": 40, "data": {"name": "skap2"}, "transform": [{"filter": "datum.t == 4"}],
   "layer": [
     {"transform": [{"aggregate": [{"op": "count", "as": "n"}]}], "mark": {"type": "rule", "color": "#9a9a9a", "strokeWidth": 1}, "encoding": {"y": {"datum": 0, "type": "quantitative"}}},
     {"mark": {"type": "area", "interpolate": "step-after", "color": "#ff0000"},
      "encoding": {"x": {"field": "x", "type": "quantitative", "scale": {"domain": [51831014, 51832226], "nice": false, "zero": false}, "axis": {"title": null, "values": [51831040,51831080,51831120,51831160,51831200,51831240,51831280,51831320,51831360,51831400,51831440,51831480,51831520,51831560,51831600,51831640,51831680,51831720,51831760,51831800,51831840,51831880,51831920,51831960,51832000,51832040,51832080,51832120,51832160,51832200]}},
                   "y": {"field": "v", "type": "quantitative", "scale": {"domain": [0, 55.556], "nice": false, "zero": false}, "axis": {"title": null, "values": [0, 50], "labelBaseline": {"condition": {"test": "datum.value == 0", "value": "bottom"}, "value": "middle"}}}}}
   ]},
  {"width": 202, "height": 40, "data": {"name": "spock3"}, "transform": [{"filter": "datum.t == 4"}],
   "layer": [
     {"transform": [{"aggregate": [{"op": "count", "as": "n"}]}], "mark": {"type": "rule", "color": "#9a9a9a", "strokeWidth": 1}, "encoding": {"y": {"datum": 0, "type": "quantitative"}}},
     {"mark": {"type": "area", "interpolate": "step-after", "color": "#ff0000"},
      "encoding": {"x": {"field": "x", "type": "quantitative", "scale": {"domain": [65812940, 65815061], "nice": false, "zero": false}, "axis": {"title": null, "values": [65813000,65813070,65813140,65813210,65813280,65813350,65813420,65813490,65813560,65813630,65813700,65813770,65813840,65813910,65813980,65814050,65814120,65814190,65814260,65814330,65814400,65814470,65814540,65814610,65814680,65814750,65814820,65814890,65814960,65815030]}},
                   "y": {"field": "v", "type": "quantitative", "scale": {"domain": [0, 33.333], "nice": false, "zero": false}, "axis": {"title": null, "values": [0, 30], "labelBaseline": {"condition": {"test": "datum.value == 0", "value": "bottom"}, "value": "middle"}}}}}
   ]},

  {"width": 202, "height": 40, "data": {"name": "per1"}, "transform": [{"filter": "datum.t == 5"}],
   "layer": [
     {"transform": [{"aggregate": [{"op": "count", "as": "n"}]}], "mark": {"type": "rule", "color": "#9a9a9a", "strokeWidth": 1}, "encoding": {"y": {"datum": 0, "type": "quantitative"}}},
     {"mark": {"type": "area", "interpolate": "step-after", "color": "#ff0000"},
      "encoding": {"x": {"field": "x", "type": "quantitative", "scale": {"domain": [68909515, 68913353], "nice": false, "zero": false}, "axis": {"title": null, "values": [68909625,68909750,68909875,68910000,68910125,68910250,68910375,68910500,68910625,68910750,68910875,68911000,68911125,68911250,68911375,68911500,68911625,68911750,68911875,68912000,68912125,68912250,68912375,68912500,68912625,68912750,68912875,68913000,68913125,68913250]}},
                   "y": {"field": "v", "type": "quantitative", "scale": {"domain": [0, 55.556], "nice": false, "zero": false}, "axis": {"title": null, "values": [0, 50], "labelBaseline": {"condition": {"test": "datum.value == 0", "value": "bottom"}, "value": "middle"}}}}},
     {"transform": [{"aggregate": [{"op": "count", "as": "n"}]}], "mark": {"type": "text", "text": "+ dex1", "align": "right", "baseline": "middle", "fontSize": 13, "fontWeight": "bold", "color": "#e4081c", "dx": -2}, "encoding": {"x": {"datum": 68913353, "type": "quantitative"}, "y": {"datum": 27.8, "type": "quantitative"}}},
     {"transform": [{"aggregate": [{"op": "count", "as": "n"}]}], "mark": {"type": "text", "text": "-/-", "align": "right", "baseline": "middle", "fontSize": 9, "fontWeight": "bold", "fontStyle": "italic", "color": "#e4081c", "dx": -46, "dy": -5}, "encoding": {"x": {"datum": 68913353, "type": "quantitative"}, "y": {"datum": 27.8, "type": "quantitative"}}},
     {"transform": [{"aggregate": [{"op": "count", "as": "n"}]}], "mark": {"type": "text", "text": "Klf15", "align": "right", "baseline": "middle", "fontSize": 13, "fontWeight": "bold", "fontStyle": "italic", "color": "#e4081c", "dx": -55}, "encoding": {"x": {"datum": 68913353, "type": "quantitative"}, "y": {"datum": 27.8, "type": "quantitative"}}}
   ]},
  {"width": 202, "height": 40, "data": {"name": "skap2"}, "transform": [{"filter": "datum.t == 5"}],
   "layer": [
     {"transform": [{"aggregate": [{"op": "count", "as": "n"}]}], "mark": {"type": "rule", "color": "#9a9a9a", "strokeWidth": 1}, "encoding": {"y": {"datum": 0, "type": "quantitative"}}},
     {"mark": {"type": "area", "interpolate": "step-after", "color": "#ff0000"},
      "encoding": {"x": {"field": "x", "type": "quantitative", "scale": {"domain": [51831014, 51832226], "nice": false, "zero": false}, "axis": {"title": null, "values": [51831040,51831080,51831120,51831160,51831200,51831240,51831280,51831320,51831360,51831400,51831440,51831480,51831520,51831560,51831600,51831640,51831680,51831720,51831760,51831800,51831840,51831880,51831920,51831960,51832000,51832040,51832080,51832120,51832160,51832200]}},
                   "y": {"field": "v", "type": "quantitative", "scale": {"domain": [0, 55.556], "nice": false, "zero": false}, "axis": {"title": null, "values": [0, 50], "labelBaseline": {"condition": {"test": "datum.value == 0", "value": "bottom"}, "value": "middle"}}}}}
   ]},
  {"width": 202, "height": 40, "data": {"name": "spock3"}, "transform": [{"filter": "datum.t == 5"}],
   "layer": [
     {"transform": [{"aggregate": [{"op": "count", "as": "n"}]}], "mark": {"type": "rule", "color": "#9a9a9a", "strokeWidth": 1}, "encoding": {"y": {"datum": 0, "type": "quantitative"}}},
     {"mark": {"type": "area", "interpolate": "step-after", "color": "#ff0000"},
      "encoding": {"x": {"field": "x", "type": "quantitative", "scale": {"domain": [65812940, 65815061], "nice": false, "zero": false}, "axis": {"title": null, "values": [65813000,65813070,65813140,65813210,65813280,65813350,65813420,65813490,65813560,65813630,65813700,65813770,65813840,65813910,65813980,65814050,65814120,65814190,65814260,65814330,65814400,65814470,65814540,65814610,65814680,65814750,65814820,65814890,65814960,65815030]}},
                   "y": {"field": "v", "type": "quantitative", "scale": {"domain": [0, 33.333], "nice": false, "zero": false}, "axis": {"title": null, "values": [0, 30], "labelBaseline": {"condition": {"test": "datum.value == 0", "value": "bottom"}, "value": "middle"}}}}}
   ]},

  {"width": 202, "height": 40, "data": {"name": "per1"}, "transform": [{"filter": "datum.t == 6"}],
   "layer": [
     {"transform": [{"aggregate": [{"op": "count", "as": "n"}]}], "mark": {"type": "rule", "color": "#9a9a9a", "strokeWidth": 1}, "encoding": {"y": {"datum": 0, "type": "quantitative"}}},
     {"mark": {"type": "area", "interpolate": "step-after", "color": "#ff0000"},
      "encoding": {"x": {"field": "x", "type": "quantitative", "scale": {"domain": [68909515, 68913353], "nice": false, "zero": false}, "axis": {"title": null, "values": [68909625,68909750,68909875,68910000,68910125,68910250,68910375,68910500,68910625,68910750,68910875,68911000,68911125,68911250,68911375,68911500,68911625,68911750,68911875,68912000,68912125,68912250,68912375,68912500,68912625,68912750,68912875,68913000,68913125,68913250]}},
                   "y": {"field": "v", "type": "quantitative", "scale": {"domain": [0, 55.556], "nice": false, "zero": false}, "axis": {"title": null, "values": [0, 50], "labelBaseline": {"condition": {"test": "datum.value == 0", "value": "bottom"}, "value": "middle"}}}}},
     {"transform": [{"aggregate": [{"op": "count", "as": "n"}]}], "mark": {"type": "text", "text": "+ dex2", "align": "right", "baseline": "middle", "fontSize": 13, "fontWeight": "bold", "color": "#e4081c", "dx": -2}, "encoding": {"x": {"datum": 68913353, "type": "quantitative"}, "y": {"datum": 27.8, "type": "quantitative"}}},
     {"transform": [{"aggregate": [{"op": "count", "as": "n"}]}], "mark": {"type": "text", "text": "-/-", "align": "right", "baseline": "middle", "fontSize": 9, "fontWeight": "bold", "fontStyle": "italic", "color": "#e4081c", "dx": -46, "dy": -5}, "encoding": {"x": {"datum": 68913353, "type": "quantitative"}, "y": {"datum": 27.8, "type": "quantitative"}}},
     {"transform": [{"aggregate": [{"op": "count", "as": "n"}]}], "mark": {"type": "text", "text": "Klf15", "align": "right", "baseline": "middle", "fontSize": 13, "fontWeight": "bold", "fontStyle": "italic", "color": "#e4081c", "dx": -55}, "encoding": {"x": {"datum": 68913353, "type": "quantitative"}, "y": {"datum": 27.8, "type": "quantitative"}}}
   ]},
  {"width": 202, "height": 40, "data": {"name": "skap2"}, "transform": [{"filter": "datum.t == 6"}],
   "layer": [
     {"transform": [{"aggregate": [{"op": "count", "as": "n"}]}], "mark": {"type": "rule", "color": "#9a9a9a", "strokeWidth": 1}, "encoding": {"y": {"datum": 0, "type": "quantitative"}}},
     {"mark": {"type": "area", "interpolate": "step-after", "color": "#ff0000"},
      "encoding": {"x": {"field": "x", "type": "quantitative", "scale": {"domain": [51831014, 51832226], "nice": false, "zero": false}, "axis": {"title": null, "values": [51831040,51831080,51831120,51831160,51831200,51831240,51831280,51831320,51831360,51831400,51831440,51831480,51831520,51831560,51831600,51831640,51831680,51831720,51831760,51831800,51831840,51831880,51831920,51831960,51832000,51832040,51832080,51832120,51832160,51832200]}},
                   "y": {"field": "v", "type": "quantitative", "scale": {"domain": [0, 55.556], "nice": false, "zero": false}, "axis": {"title": null, "values": [0, 50], "labelBaseline": {"condition": {"test": "datum.value == 0", "value": "bottom"}, "value": "middle"}}}}}
   ]},
  {"width": 202, "height": 40, "data": {"name": "spock3"}, "transform": [{"filter": "datum.t == 6"}],
   "layer": [
     {"transform": [{"aggregate": [{"op": "count", "as": "n"}]}], "mark": {"type": "rule", "color": "#9a9a9a", "strokeWidth": 1}, "encoding": {"y": {"datum": 0, "type": "quantitative"}}},
     {"mark": {"type": "area", "interpolate": "step-after", "color": "#ff0000"},
      "encoding": {"x": {"field": "x", "type": "quantitative", "scale": {"domain": [65812940, 65815061], "nice": false, "zero": false}, "axis": {"title": null, "values": [65813000,65813070,65813140,65813210,65813280,65813350,65813420,65813490,65813560,65813630,65813700,65813770,65813840,65813910,65813980,65814050,65814120,65814190,65814260,65814330,65814400,65814470,65814540,65814610,65814680,65814750,65814820,65814890,65814960,65815030]}},
                   "y": {"field": "v", "type": "quantitative", "scale": {"domain": [0, 33.333], "nice": false, "zero": false}, "axis": {"title": null, "values": [0, 30], "labelBaseline": {"condition": {"test": "datum.value == 0", "value": "bottom"}, "value": "middle"}}}}}
   ]},

  {
    "width": 202, "height": 27,
    "data": {"values": [{"gene": "Per1"}]},
    "layer": [
      {"mark": {"type": "rect", "color": "#000000", "stroke": "#777777", "strokeWidth": 1},
       "encoding": {"x": {"datum": 68910978, "type": "quantitative", "scale": {"domain": [68909515, 68913353], "nice": false, "zero": false}, "axis": null}, "x2": {"datum": 68911852},
                    "y": {"datum": 4, "type": "quantitative", "scale": {"domain": [0, 27], "nice": false, "zero": false, "reverse": true}, "axis": null}, "y2": {"datum": 26}}},
      {"mark": {"type": "text", "color": "#ffffff", "fontSize": 13, "fontWeight": "bold", "fontStyle": "italic", "align": "center", "baseline": "middle"},
       "encoding": {"text": {"field": "gene"}, "x": {"datum": 68911415, "type": "quantitative"}, "y": {"datum": 15, "type": "quantitative"}}}
    ]
  },
  {
    "width": 202, "height": 27,
    "data": {"values": [{"gene": "Skap2"}]},
    "layer": [
      {"mark": {"type": "rect", "color": "#000000", "stroke": "#777777", "strokeWidth": 1},
       "encoding": {"x": {"datum": 51831446, "type": "quantitative", "scale": {"domain": [51831014, 51832226], "nice": false, "zero": false}, "axis": null}, "x2": {"datum": 51831788},
                    "y": {"datum": 4, "type": "quantitative", "scale": {"domain": [0, 27], "nice": false, "zero": false, "reverse": true}, "axis": null}, "y2": {"datum": 26}}},
      {"mark": {"type": "text", "color": "#ffffff", "fontSize": 13, "fontWeight": "bold", "fontStyle": "italic", "align": "center", "baseline": "middle"},
       "encoding": {"text": {"field": "gene"}, "x": {"datum": 51831617, "type": "quantitative"}, "y": {"datum": 15, "type": "quantitative"}}}
    ]
  },
  {
    "width": 202, "height": 27,
    "data": {"values": [{"gene": "Spock3"}]},
    "layer": [
      {"mark": {"type": "rect", "color": "#000000", "stroke": "#777777", "strokeWidth": 1},
       "encoding": {"x": {"datum": 65813654, "type": "quantitative", "scale": {"domain": [65812940, 65815061], "nice": false, "zero": false}, "axis": null}, "x2": {"datum": 65814336},
                    "y": {"datum": 4, "type": "quantitative", "scale": {"domain": [0, 27], "nice": false, "zero": false, "reverse": true}, "axis": null}, "y2": {"datum": 26}}},
      {"mark": {"type": "text", "color": "#ffffff", "fontSize": 13, "fontWeight": "bold", "fontStyle": "italic", "align": "center", "baseline": "middle"},
       "encoding": {"text": {"field": "gene"}, "x": {"datum": 65813995, "type": "quantitative"}, "y": {"datum": 15, "type": "quantitative"}}}
    ]
  }
]
}
]
}
